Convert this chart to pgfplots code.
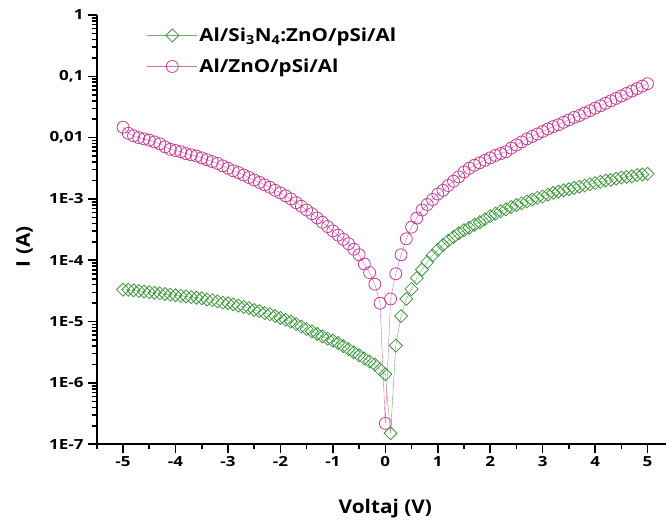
\documentclass[border=0pt]{standalone}
\usepackage{fontspec}
\setmainfont{Open Sans}
\usepackage{pgfplots}
\pgfplotsset{compat=1.18}
\usepackage{pgfplotstable}

\definecolor{grn}{RGB}{60,150,60}
\definecolor{pnk}{RGB}{200,60,150}

% V, log10(I) for Al/ZnO/pSi/Al (lgp) and Al/Si3N4:ZnO/pSi/Al (lgg)
\pgfplotstableread{
V    lgp    lgg
-5.0 -1.83 -4.48
-4.9 -1.93 -4.48
-4.8 -1.97 -4.49
-4.7 -2.00 -4.50
-4.6 -2.02 -4.51
-4.5 -2.04 -4.52
-4.4 -2.07 -4.53
-4.3 -2.10 -4.54
-4.2 -2.15 -4.55
-4.1 -2.19 -4.56
-4.0 -2.21 -4.57
-3.9 -2.23 -4.58
-3.8 -2.26 -4.59
-3.7 -2.28 -4.60
-3.6 -2.30 -4.61
-3.5 -2.33 -4.62
-3.4 -2.36 -4.64
-3.3 -2.39 -4.65
-3.2 -2.42 -4.67
-3.1 -2.46 -4.69
-3.0 -2.50 -4.70
-2.9 -2.54 -4.72
-2.8 -2.57 -4.74
-2.7 -2.61 -4.76
-2.6 -2.65 -4.78
-2.5 -2.69 -4.81
-2.4 -2.73 -4.83
-2.3 -2.77 -4.86
-2.2 -2.81 -4.88
-2.1 -2.86 -4.91
-2.0 -2.90 -4.94
-1.9 -2.95 -4.97
-1.8 -3.00 -5.00
-1.7 -3.06 -5.04
-1.6 -3.12 -5.08
-1.5 -3.18 -5.12
-1.4 -3.24 -5.16
-1.3 -3.31 -5.20
-1.2 -3.38 -5.24
-1.1 -3.45 -5.28
-1.0 -3.52 -5.31
-0.9 -3.59 -5.35
-0.8 -3.66 -5.40
-0.7 -3.73 -5.45
-0.6 -3.82 -5.50
-0.5 -3.91 -5.55
-0.4 -4.06 -5.60
-0.3 -4.20 -5.65
-0.2 -4.39 -5.70
-0.1 -4.70 -5.78
0.0  -6.66 -5.86
0.1  -4.63 -6.82
0.2  -4.22 -5.39
0.3  -3.91 -4.91
0.4  -3.65 -4.63
0.5  -3.46 -4.47
0.6  -3.31 -4.29
0.7  -3.18 -4.15
0.8  -3.09 -4.03
0.9  -3.01 -3.92
1.0  -2.92 -3.83
1.1  -2.86 -3.75
1.2  -2.78 -3.68
1.3  -2.71 -3.62
1.4  -2.64 -3.56
1.5  -2.56 -3.51
1.6  -2.50 -3.47
1.7  -2.45 -3.42
1.8  -2.41 -3.38
1.9  -2.37 -3.33
2.0  -2.33 -3.28
2.1  -2.29 -3.24
2.2  -2.26 -3.20
2.3  -2.23 -3.17
2.4  -2.17 -3.13
2.5  -2.12 -3.10
2.6  -2.07 -3.07
2.7  -2.02 -3.04
2.8  -1.98 -3.01
2.9  -1.94 -2.98
3.0  -1.90 -2.96
3.1  -1.86 -2.93
3.2  -1.82 -2.90
3.3  -1.79 -2.88
3.4  -1.75 -2.86
3.5  -1.71 -2.84
3.6  -1.67 -2.82
3.7  -1.64 -2.80
3.8  -1.60 -2.78
3.9  -1.56 -2.76
4.0  -1.52 -2.74
4.1  -1.48 -2.72
4.2  -1.44 -2.70
4.3  -1.40 -2.69
4.4  -1.36 -2.67
4.5  -1.32 -2.65
4.6  -1.28 -2.64
4.7  -1.24 -2.63
4.8  -1.20 -2.61
4.9  -1.16 -2.60
5.0  -1.12 -2.59
}\ivdata

\begin{document}
\begin{tikzpicture}
\begin{axis}[
  scale only axis,
  width=570bp, height=430bp,
  xmin=-5.5, xmax=5.35,
  ymode=log, ymin=1e-7, ymax=1,
  axis x line=bottom, axis y line=left,
  axis line style={-, line width=2.2bp},
  xtick={-5,...,5},
  minor xtick={-5.5,-4.5,...,4.5},
  ytick={1e-7,1e-6,1e-5,1e-4,1e-3,1e-2,1e-1,1},
  yticklabels={1E-7,1E-6,1E-5,1E-4,1E-3,{0,01},{0,1},1},
  minor ytick={2e-7,3e-7,4e-7,5e-7,6e-7,7e-7,8e-7,9e-7,
               2e-6,3e-6,4e-6,5e-6,6e-6,7e-6,8e-6,9e-6,
               2e-5,3e-5,4e-5,5e-5,6e-5,7e-5,8e-5,9e-5,
               2e-4,3e-4,4e-4,5e-4,6e-4,7e-4,8e-4,9e-4,
               2e-3,3e-3,4e-3,5e-3,6e-3,7e-3,8e-3,9e-3,
               0.02,0.03,0.04,0.05,0.06,0.07,0.08,0.09,
               0.2,0.3,0.4,0.5,0.6,0.7,0.8,0.9},
  tick align=outside,
  major tick length=9bp, minor tick length=5bp,
  every tick/.style={black, line width=1.6bp},
  /pgf/number format/assume math mode=true,
  tick label style={font=\bfseries\fontsize{14}{16}\selectfont, xscale=1.22},
  xlabel={\bfseries Voltaj (V)},
  ylabel={\bfseries I (A)},
  label style={font=\fontsize{19}{22}\selectfont, xscale=1.1},
  x label style={at={(axis description cs:0.507,-0.15)}, anchor=center},
  y label style={at={(axis description cs:-0.127,0.46)}, anchor=center, rotate=0},
  clip=false,
  legend cell align=left,
  legend style={draw=none, fill=none, at={(axis description cs:0.088,0.975)}, anchor=north west,
    font=\bfseries\fontsize{18}{20}\selectfont, row sep=12bp, inner sep=0pt},
  legend image code/.code={
    \draw[mark repeat=2, mark phase=2, #1] plot coordinates {(0bp,0bp) (25bp,0bp) (50bp,0bp)};
  },
]
\addplot[grn!75, line width=0.4bp, mark=square, mark size=4.6bp,
  mark options={rotate=45, solid, draw=grn, line width=0.8bp}]
  table[x=V, y expr=10^(\thisrow{lgg})] {\ivdata};
\addlegendentry{\scalebox{1.15}[1]{Al/Si$_{\mathbf{3}}$N$_{\mathbf{4}}$:ZnO/pSi/Al}}
\addplot[pnk!75, line width=0.4bp, mark=o, mark size=6bp,
  mark options={solid, draw=pnk, line width=0.8bp}]
  table[x=V, y expr=10^(\thisrow{lgp})] {\ivdata};
\addlegendentry{\scalebox{1.15}[1]{Al/ZnO/pSi/Al}}
\end{axis}
% page frame matching the reference margins
\path (current axis.south west) ++(-97bp,-80bp) coordinate (bbA);
\path (current axis.north east) ++(0bp,15bp) coordinate (bbB);
\path (bbA) rectangle (bbB);
\end{tikzpicture}
\end{document}
